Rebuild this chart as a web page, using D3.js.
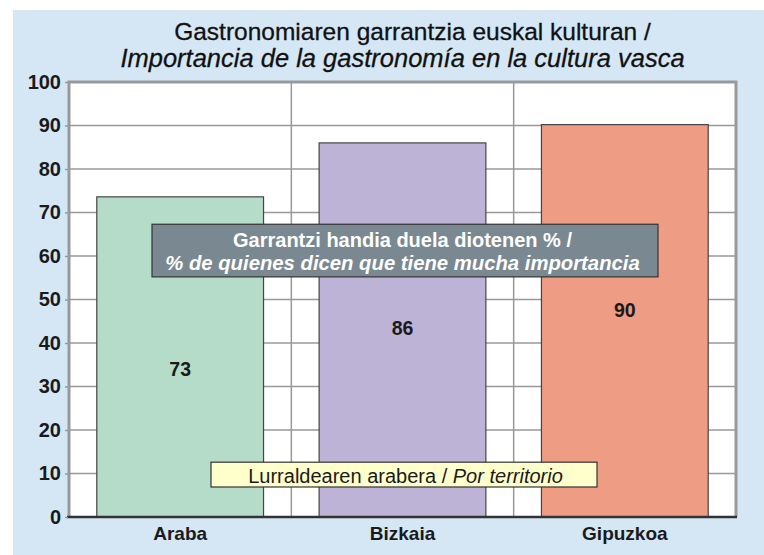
<!DOCTYPE html>
<html lang="en">
<head>
  <meta charset="utf-8" />
  <title>Gastronomiaren garrantzia</title>
  <script src="https://cdn.jsdelivr.net/npm/d3@7"></script>
  <style>
body{ margin:0; background:#fff; }
svg{ display:block; font-family:"Liberation Sans", Arial, sans-serif; }
  </style>
</head>
<body>
  <svg id="chart"></svg>
  <script>
  // data
  var territories = ['Araba', 'Bizkaia', 'Gipuzkoa'];
  var values = [73.6, 86, 90.2];
  var valueLabels = ['73', '86', '90'];
  var labelAt = [34, 43.5, 47.5];
  var barColors = ['#b5dcc8', '#bcb3d7', '#ef9c85'];
  var yTicks = [0, 10, 20, 30, 40, 50, 60, 70, 80, 90, 100];

  var width = 764, height = 555;
  var margin = {top: 82, right: 28, bottom: 38, left: 69};

  var svg = d3.select('#chart')
      .attr('width', width)
      .attr('height', height);

  svg.append('rect')
      .attr('x', 13).attr('y', 10)
      .attr('width', width - 13).attr('height', height - 10)
      .attr('fill', '#d5e7f5');

  var x = d3.scaleBand()
      .domain(territories)
      .range([margin.left, width - margin.right])
      .paddingInner(0.25)
      .paddingOuter(0.125);

  var y = d3.scaleLinear()
      .domain([0, 100])
      .range([height - margin.bottom, margin.top]);

  // plot area
  svg.append('rect')
      .attr('x', margin.left).attr('y', margin.top)
      .attr('width', width - margin.right - margin.left)
      .attr('height', height - margin.bottom - margin.top)
      .attr('fill', '#fff');

  // grid
  svg.append('g')
      .selectAll('line')
      .data(yTicks.slice(1, -1))
      .enter().append('line')
        .attr('x1', margin.left).attr('x2', width - margin.right)
        .attr('y1', d => y(d)).attr('y2', d => y(d))
        .attr('stroke', '#999').attr('stroke-width', 1.5);

  var step = x.step();
  svg.append('g')
      .selectAll('line')
      .data(territories.slice(1))
      .enter().append('line')
        .attr('x1', d => x(d) - step * x.paddingInner() / 2)
        .attr('x2', d => x(d) - step * x.paddingInner() / 2)
        .attr('y1', margin.top).attr('y2', height - margin.bottom)
        .attr('stroke', '#999').attr('stroke-width', 1.5);

  // frame
  svg.append('path')
      .attr('d', `M${margin.left},${height - margin.bottom}V${margin.top}H${width - margin.right}V${height - margin.bottom}`)
      .attr('fill', 'none')
      .attr('stroke', '#999')
      .attr('stroke-width', 3);

  // bars
  svg.append('g')
      .selectAll('rect')
      .data(values)
      .enter().append('rect')
        .attr('x', (d, i) => x(territories[i]))
        .attr('y', d => y(d))
        .attr('width', x.bandwidth())
        .attr('height', d => y(0) - y(d))
        .attr('fill', (d, i) => barColors[i])
        .attr('stroke', '#444')
        .attr('stroke-width', 1.2);

  // bottom axis line
  svg.append('line')
      .attr('x1', margin.left - 2).attr('x2', width - margin.right + 1)
      .attr('y1', y(0)).attr('y2', y(0))
      .attr('stroke', '#333').attr('stroke-width', 2.5);

  // y axis labels
  var yAxis = d3.axisLeft(y).tickValues(yTicks).tickSize(3).tickPadding(4);
  var gy = svg.append('g')
      .attr('transform', `translate(${margin.left - 1},0)`)
      .call(yAxis);
  gy.select('.domain').remove();
  gy.selectAll('.tick line').attr('stroke', '#999').attr('stroke-width', 1.5);
  gy.selectAll('.tick text')
      .attr('font-family', '"Liberation Sans", Arial, sans-serif')
      .attr('font-size', 20)
      .attr('font-weight', 'bold')
      .attr('fill', '#1a1a1a');

  // x axis labels
  var xAxis = d3.axisBottom(x).tickSize(0).tickPadding(10);
  var gx = svg.append('g')
      .attr('transform', `translate(0,${y(0)})`)
      .call(xAxis);
  gx.select('.domain').remove();
  gx.selectAll('.tick text')
      .attr('font-family', '"Liberation Sans", Arial, sans-serif')
      .attr('font-size', 19)
      .attr('font-weight', 'bold')
      .attr('fill', '#1a1a1a');

  // value labels
  svg.append('g')
      .selectAll('text')
      .data(valueLabels)
      .enter().append('text')
        .attr('x', (d, i) => x(territories[i]) + x.bandwidth() / 2)
        .attr('y', (d, i) => y(labelAt[i]))
        .attr('dy', '0.35em')
        .attr('text-anchor', 'middle')
        .attr('font-size', 19.5)
        .attr('font-weight', 'bold')
        .attr('fill', '#1a1a1a')
        .text(d => d);

  // title
  var cx = (margin.left + width - margin.right) / 2;
  svg.append('text')
      .attr('x', cx + 10).attr('y', 40)
      .attr('text-anchor', 'middle')
      .attr('font-size', 24.5)
      .attr('fill', '#111')
      .attr('stroke', '#111').attr('stroke-width', 0.3)
      .text('Gastronomiaren garrantzia euskal kulturan /');
  svg.append('text')
      .attr('x', cx).attr('y', 67)
      .attr('text-anchor', 'middle')
      .attr('font-size', 25.5)
      .attr('font-style', 'italic')
      .attr('fill', '#111')
      .attr('stroke', '#111').attr('stroke-width', 0.3)
      .text('Importancia de la gastronomía en la cultura vasca');

  // gray note box
  svg.append('rect')
      .attr('x', 152).attr('y', y(67.3))
      .attr('width', 506).attr('height', y(55.2) - y(67.3))
      .attr('fill', '#7a8892')
      .attr('stroke', '#333').attr('stroke-width', 1.2);
  svg.append('text')
      .attr('x', cx).attr('y', y(62))
      .attr('text-anchor', 'middle')
      .attr('font-size', 20)
      .attr('font-weight', 'bold')
      .attr('fill', '#fff')
      .text('Garrantzi handia duela diotenen % /');
  svg.append('text')
      .attr('x', cx).attr('y', y(56.8))
      .attr('text-anchor', 'middle')
      .attr('font-size', 20.3)
      .attr('font-weight', 'bold')
      .attr('font-style', 'italic')
      .attr('fill', '#fff')
      .text('% de quienes dicen que tiene mucha importancia');

  // yellow note box
  svg.append('rect')
      .attr('x', 211).attr('y', y(12.6))
      .attr('width', 386).attr('height', y(6.9) - y(12.6))
      .attr('fill', '#ffffcc')
      .attr('stroke', '#333').attr('stroke-width', 1.2);
  var note = svg.append('text')
      .attr('x', cx + 3).attr('y', y(7.8))
      .attr('text-anchor', 'middle')
      .attr('font-size', 20)
      .attr('fill', '#1a1a1a');
  note.append('tspan').text('Lurraldearen arabera / ');
  note.append('tspan').attr('font-style', 'italic').text('Por territorio');
  </script>
</body>
</html>
